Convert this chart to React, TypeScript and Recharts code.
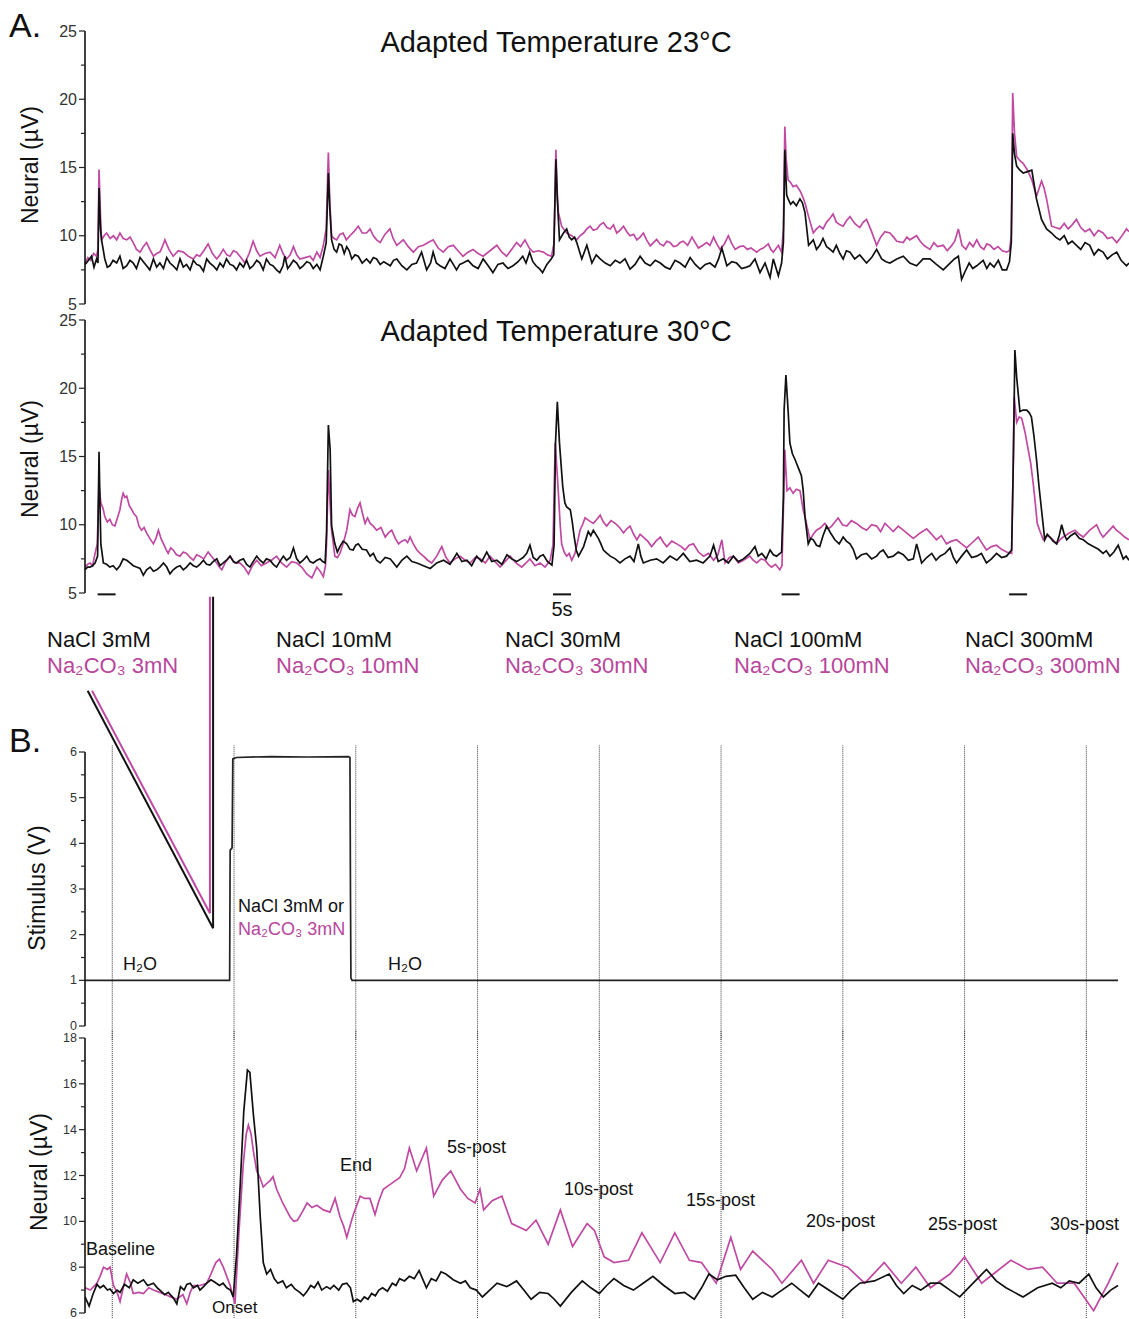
import React from 'react';
import { LineChart, Line, XAxis, YAxis, ReferenceLine } from 'recharts';

const FONT = '"Liberation Sans", Arial, Helvetica, sans-serif';
const BLACK = '#111111';
const MAGENTA = '#c04aa2';
const MAGENTA_TEXT = '#b8469c';

// ---------- Panel A, adapted 23 °C : [time (s), neural (µV)] ----------
const a23NaCl: number[][] = [
  [0,7.9],[0.4,8.0],[1.8,8.5],[2.5,7.7],[3.2,8.3],[3.6,8.0],[3.9,13.5],[4.3,10.5],[4.6,9.7],[5.5,8.3],[6.2,7.7],[6.9,7.8],[7.8,8.2],[8.8,8.0],[9.7,8.5],[10.6,7.6],[11.6,7.8],[12.5,8.2],[13.4,8.0],[14.3,7.6],[15.3,8.4],[16.2,8.1],[17.1,7.8],[18.0,7.5],[19.0,8.3],[19.9,7.7],[20.8,8.0],[21.8,7.6],[22.7,8.4],[23.6,8.0],[24.5,7.8],[25.5,7.5],[26.4,8.3],[27.3,7.7],[28.2,7.9],[29.2,7.5],[30.1,8.2],[31.0,7.9],[31.9,7.8],[32.9,7.4],[33.8,8.3],[34.7,8.0],[35.6,7.8],[36.6,7.5],[37.5,8.0],[38.4,7.7],[39.3,8.3],[40.3,7.9],[41.2,7.8],[42.1,7.5],[43.0,8.0],[44.0,7.7],[44.9,8.2],[45.8,7.6],[46.7,7.8],[47.7,8.2],[48.6,8.0],[49.5,7.5],[50.4,8.3],[51.4,7.9],[52.2,7.8],[53.2,7.5],[54.1,7.3],[55.0,7.8],[55.5,8.5],[56.3,7.6],[56.9,7.8],[57.9,8.2],[58.8,8.0],[59.7,7.6],[60.6,7.8],[61.6,8.1],[62.5,8.0],[63.4,7.6],[64.4,7.9],[65.3,7.5],[66.2,8.5],[67.0,9.5],[67.6,14.6],[68.0,12.0],[68.5,9.7],[69.2,9.0],[69.9,8.8],[70.6,9.4],[71.3,9.3],[72.0,8.7],[72.7,9.2],[73.4,8.9],[74.1,8.3],[75.0,8.6],[75.9,8.5],[77.0,8.0],[78.2,8.3],[79.2,8.0],[80.1,8.4],[81.0,8.3],[82.0,7.9],[83.0,8.1],[84.8,7.8],[85.7,8.2],[86.6,8.3],[88.0,7.8],[89.4,7.5],[90.8,7.9],[92.1,8.0],[93.5,8.8],[94.9,7.5],[96.0,8.0],[96.7,8.8],[97.6,8.0],[98.6,7.8],[100.0,7.6],[101.4,8.3],[102.3,7.9],[103.2,7.5],[104.1,7.9],[105.0,8.0],[106.4,8.2],[107.8,7.8],[109.2,7.6],[110.6,8.3],[112.0,7.8],[113.3,7.3],[114.7,7.9],[116.1,8.0],[117.5,7.6],[118.9,7.8],[120.3,8.1],[121.6,8.5],[122.5,8.0],[123.5,8.8],[124.4,8.1],[125.3,7.8],[126.2,7.6],[127.1,7.3],[128.3,7.9],[129.5,8.3],[130.2,8.6],[130.8,15.6],[131.2,12.7],[131.8,9.7],[132.9,10.2],[133.8,10.5],[134.5,9.9],[135.2,9.7],[136.0,9.9],[136.6,9.5],[138.0,8.3],[139.4,9.3],[140.8,8.0],[142.0,8.6],[143.1,8.3],[144.5,8.0],[145.9,7.8],[147.3,8.2],[148.6,8.0],[150.0,8.3],[151.4,7.55],[152.8,7.9],[154.2,8.5],[155.6,8.0],[157.0,7.8],[158.4,8.2],[159.8,8.0],[161.2,7.7],[162.5,7.55],[163.9,8.2],[165.3,8.0],[166.7,7.7],[168.1,8.4],[169.5,7.9],[170.9,7.55],[172.3,7.9],[173.6,8.0],[175.0,7.7],[176.0,8.3],[176.9,9.1],[178.3,7.8],[179.7,8.1],[181.0,8.0],[182.4,7.6],[183.8,7.7],[184.7,7.8],[186.1,8.3],[187.5,7.3],[188.9,8.0],[190.3,6.95],[191.2,8.3],[192.6,7.07],[193.5,8.0],[194.0,9.5],[194.4,16.3],[194.9,13.0],[195.3,12.7],[196.0,12.3],[196.7,12.5],[197.6,12.2],[198.6,12.7],[199.3,12.4],[200.0,11.7],[201.0,9.3],[202.3,9.7],[203.2,9.0],[204.1,9.3],[205.0,9.8],[206.0,9.2],[207.0,9.0],[207.8,8.8],[208.7,9.3],[209.7,8.7],[210.6,8.3],[211.5,8.9],[212.5,8.8],[213.8,8.3],[215.2,8.6],[217.1,8.0],[218.5,8.4],[219.9,9.0],[221.3,8.3],[222.5,8.1],[223.6,8.0],[225.5,8.3],[227.3,8.5],[229.1,8.0],[231.0,7.8],[232.8,8.3],[234.7,8.3],[236.5,7.9],[238.4,7.5],[240.3,8.0],[241.5,8.3],[242.6,8.5],[243.5,6.8],[244.5,7.4],[245.6,8.0],[246.6,7.6],[247.7,7.8],[249.5,8.2],[250.5,7.6],[251.4,8.0],[252.5,7.7],[253.7,8.2],[254.8,7.5],[256.0,7.5],[256.8,8.1],[257.3,9.5],[257.7,17.5],[258.2,16.0],[258.8,15.1],[259.7,14.8],[260.6,14.6],[261.8,14.7],[263.0,14.8],[264.3,12.7],[265.7,11.2],[267.1,10.5],[268.5,10.2],[269.6,9.9],[270.8,9.7],[272.0,10.0],[273.1,9.4],[274.2,9.6],[275.4,9.3],[276.6,9.0],[277.8,9.5],[279.1,9.3],[280.3,8.6],[281.5,9.0],[282.8,8.8],[284.0,8.3],[285.3,8.6],[286.6,8.8],[287.8,8.2],[289.3,7.8],[290,8.0],
];
const a23Na2CO3: number[][] = [
  [0,8.0],[0.8,8.4],[1.6,8.2],[2.4,8.7],[3.2,8.5],[3.6,9.0],[3.9,14.85],[4.3,11.5],[4.6,9.7],[5.3,10.0],[6.0,10.2],[7.0,9.8],[7.9,10.0],[8.8,9.7],[9.7,10.2],[10.6,9.8],[11.6,9.7],[12.5,9.9],[13.4,9.5],[14.3,9.0],[15.3,8.8],[16.2,9.2],[17.1,9.5],[18.0,9.0],[19.0,8.5],[19.9,8.7],[20.8,8.8],[21.5,9.2],[22.2,9.7],[23.3,9.0],[24.5,8.5],[25.9,8.9],[27.3,8.8],[28.7,8.5],[30.1,8.3],[31.0,8.6],[31.9,8.5],[33.0,8.9],[34.2,9.4],[35.4,8.7],[36.6,8.3],[37.5,8.6],[38.4,9.0],[39.4,8.6],[40.3,8.5],[41.2,8.9],[42.1,8.8],[43.3,8.4],[44.4,8.0],[45.6,8.7],[46.7,9.6],[47.7,8.9],[48.6,8.5],[50.0,8.7],[51.4,8.8],[52.8,8.4],[54.1,9.3],[55.0,8.7],[56.0,8.3],[57.0,8.6],[57.9,9.2],[58.8,8.6],[59.7,8.3],[61.1,8.4],[62.5,8.5],[63.4,8.2],[64.4,8.8],[65.3,8.4],[66.2,9.3],[67.0,10.5],[67.6,16.1],[68.0,12.5],[68.5,10.0],[69.2,9.8],[69.9,9.7],[70.8,10.1],[71.7,10.2],[72.6,9.7],[73.6,10.0],[74.7,10.3],[75.9,10.7],[77.0,10.2],[78.2,10.2],[79.2,10.5],[80.1,10.0],[81.0,9.7],[82.0,9.5],[83.3,10.1],[84.7,10.5],[85.6,9.8],[86.6,9.3],[87.5,9.5],[88.4,9.7],[89.8,9.2],[91.2,8.8],[92.6,9.2],[94.0,9.3],[95.3,9.5],[96.7,9.7],[98.1,9.1],[99.5,8.8],[100.9,9.2],[102.3,9.3],[103.6,8.9],[105.0,8.5],[106.4,8.8],[107.8,9.0],[109.2,8.7],[110.6,8.5],[112.5,8.9],[114.4,9.3],[115.8,8.8],[117.1,8.5],[118.5,9.0],[119.9,9.5],[121.0,9.2],[122.2,9.7],[123.4,9.1],[124.5,8.8],[125.9,8.9],[127.3,8.8],[128.5,8.6],[129.6,8.5],[130.3,9.5],[130.8,16.3],[131.2,13.0],[131.5,11.7],[132.4,10.7],[133.8,10.2],[135.2,10.0],[136.6,9.7],[137.5,10.0],[138.5,10.2],[139.4,10.5],[140.3,10.7],[141.2,10.4],[142.2,10.5],[143.1,10.8],[144.0,10.96],[145.0,10.6],[145.9,10.5],[146.8,10.8],[147.7,10.2],[148.6,10.4],[149.6,10.7],[150.5,10.3],[151.4,10.0],[152.4,10.1],[153.3,9.7],[154.2,9.9],[155.1,10.2],[156.0,9.7],[157.0,9.26],[157.9,9.5],[158.8,9.74],[159.7,9.4],[160.7,9.26],[161.6,9.6],[162.5,9.5],[163.5,9.2],[164.4,9.26],[165.3,9.5],[166.2,9.6],[167.4,9.3],[168.6,9.9],[169.5,9.5],[170.4,9.1],[171.6,9.3],[172.7,9.5],[173.6,9.3],[174.6,9.9],[175.5,9.4],[176.4,9.0],[177.6,9.4],[178.7,10.0],[179.7,9.4],[180.6,9.0],[181.8,9.2],[182.9,9.26],[184.0,9.0],[185.0,9.1],[186.6,8.8],[187.5,9.0],[188.4,9.1],[189.8,9.4],[190.5,9.0],[191.2,8.8],[192.6,9.3],[193.5,8.8],[194.0,10.5],[194.4,18.0],[194.8,15.5],[195.3,14.1],[196.0,13.9],[196.7,13.6],[197.6,13.7],[198.6,13.3],[199.3,12.9],[200.0,12.4],[201.0,11.4],[202.3,10.2],[203.2,10.5],[204.1,10.7],[205.0,10.5],[206.0,11.0],[207.0,11.3],[207.8,11.6],[208.7,11.0],[209.7,10.8],[210.6,10.7],[211.5,11.1],[212.5,11.4],[213.8,10.9],[215.2,10.6],[216.2,11.0],[217.1,11.2],[218.5,10.3],[219.9,9.3],[221.0,9.9],[222.2,10.3],[223.6,10.2],[224.6,9.9],[225.5,9.6],[227.3,9.5],[228.3,9.9],[229.1,9.7],[231.0,10.0],[232.0,9.6],[233.0,9.3],[234.7,9.0],[235.8,9.5],[236.8,9.2],[238.4,9.3],[239.5,8.9],[240.5,9.2],[241.6,9.6],[242.6,10.5],[243.6,9.3],[244.7,9.0],[245.7,9.5],[246.7,9.2],[247.7,9.7],[248.7,9.2],[249.7,9.0],[250.5,9.4],[251.4,9.3],[252.5,9.0],[253.6,9.2],[254.8,8.9],[256.0,8.8],[256.8,8.9],[257.3,10.0],[257.7,20.45],[258.2,17.5],[258.8,15.8],[259.7,15.5],[260.6,15.3],[261.8,14.8],[263.0,14.1],[264.3,12.9],[265.7,14.0],[266.4,13.5],[267.1,12.7],[268.5,10.7],[269.6,10.6],[270.8,10.5],[272.0,10.9],[273.1,10.5],[274.2,10.8],[275.4,11.2],[276.6,10.6],[277.8,10.3],[279.1,10.5],[280.3,10.0],[281.5,10.4],[282.8,10.2],[284.0,9.8],[285.3,9.9],[286.6,9.5],[287.8,9.9],[289.3,10.5],[290,10.3],
];

// ---------- Panel A, adapted 30 °C ----------
const a30NaCl: number[][] = [
  [0,6.7],[0.7,6.9],[1.4,6.9],[2.1,7.0],[2.8,7.2],[3.5,7.7],[3.9,15.35],[4.2,11.0],[4.4,8.6],[5.1,7.2],[6.0,7.1],[6.9,6.9],[7.8,7.0],[8.8,6.7],[9.7,7.0],[10.6,7.5],[11.6,7.4],[12.5,7.2],[13.4,7.0],[14.3,6.9],[15.3,6.8],[16.2,6.3],[17.1,6.7],[18.1,6.9],[19.0,6.6],[19.9,6.7],[20.8,6.9],[21.8,7.2],[22.7,6.9],[23.6,6.4],[24.5,6.7],[25.5,6.9],[26.4,7.0],[27.3,6.7],[28.2,6.9],[29.2,7.2],[30.1,7.0],[31.0,6.9],[31.9,7.1],[32.9,7.4],[33.8,7.1],[34.7,7.05],[35.6,7.3],[36.6,7.5],[37.5,7.0],[38.4,7.2],[39.3,7.4],[40.3,7.7],[41.2,7.3],[42.1,7.2],[43.0,7.4],[44.0,7.5],[44.9,7.1],[45.8,6.9],[46.7,7.3],[47.7,7.7],[48.6,7.4],[49.5,7.2],[50.4,7.5],[51.4,7.4],[52.3,7.1],[53.2,6.9],[54.1,7.3],[55.1,7.7],[56.0,7.4],[57.0,7.6],[57.9,8.3],[58.8,7.5],[59.7,7.2],[60.6,7.4],[61.6,7.7],[62.5,7.3],[63.4,7.2],[64.4,7.4],[65.3,7.5],[66.0,7.3],[66.7,7.2],[67.1,9.5],[67.6,17.3],[68.1,15.5],[68.5,9.9],[69.4,8.6],[70.1,8.0],[70.8,8.4],[71.7,8.8],[72.7,8.6],[73.6,8.2],[74.5,8.15],[75.2,8.5],[75.9,8.6],[77.0,8.2],[78.2,8.15],[79.2,7.7],[80.1,7.9],[81.0,7.4],[82.0,7.2],[83.4,7.6],[84.8,7.5],[85.7,7.2],[86.6,6.9],[88.0,7.4],[89.4,7.7],[90.8,7.3],[92.2,7.2],[94.0,7.0],[95.9,6.8],[97.7,7.2],[99.6,7.4],[101.4,7.1],[103.3,7.9],[104.7,7.3],[106.1,7.4],[107.4,7.0],[108.8,7.7],[110.2,7.3],[111.6,8.0],[113.0,7.3],[114.4,7.4],[115.8,7.1],[117.2,7.8],[118.5,7.5],[119.9,7.3],[121.7,7.6],[122.7,7.9],[123.6,8.5],[124.5,7.6],[125.5,7.4],[126.4,7.7],[127.3,7.8],[128.5,7.3],[129.7,7.05],[130.3,8.5],[130.7,16.0],[131.2,19.0],[131.8,16.0],[132.7,12.8],[133.3,11.6],[133.8,11.3],[134.8,11.1],[135.3,10.3],[135.9,9.1],[136.5,8.1],[137.1,7.7],[138.5,8.4],[139.8,9.5],[140.5,9.2],[141.2,9.6],[142.6,9.0],[143.3,8.6],[144.0,8.15],[145.0,7.9],[145.9,7.7],[147.3,7.5],[148.6,7.2],[150.0,7.5],[151.4,7.7],[152.5,7.3],[153.7,8.6],[154.4,7.7],[155.1,7.2],[157.0,7.4],[158.8,7.5],[160.6,7.2],[162.5,7.7],[164.4,7.4],[166.2,7.9],[168.0,7.3],[169.9,7.4],[171.7,7.2],[173.6,7.7],[174.6,8.5],[175.9,7.3],[177.3,7.5],[178.7,7.2],[180.1,7.7],[181.5,7.3],[182.9,7.5],[184.7,7.9],[186.1,8.4],[187.0,7.7],[188.0,7.9],[189.2,7.5],[190.3,8.15],[191.2,7.8],[192.1,7.7],[193.5,8.0],[194.0,12.0],[194.2,18.4],[194.7,20.96],[195.3,18.4],[195.8,16.0],[196.5,15.2],[197.2,14.8],[198.4,14.0],[199.0,13.6],[199.5,12.5],[200.0,10.6],[200.9,8.6],[201.6,9.0],[202.3,8.9],[203.2,8.5],[204.1,8.4],[205.0,9.2],[206.0,9.9],[207.1,9.4],[208.3,8.9],[209.5,8.6],[210.6,9.1],[211.5,8.8],[212.5,8.6],[213.4,8.2],[214.3,7.5],[215.7,7.8],[217.1,7.9],[218.5,7.5],[219.9,7.7],[220.8,8.0],[221.7,8.15],[223.1,7.6],[224.5,7.7],[225.9,8.0],[227.3,7.8],[228.7,7.4],[230.1,7.5],[231.0,8.6],[232.4,7.2],[233.8,7.6],[235.2,7.9],[236.4,7.4],[237.5,7.7],[238.9,7.9],[240.3,8.3],[241.2,7.6],[242.1,7.2],[243.5,7.7],[244.9,8.15],[246.3,7.6],[247.7,7.7],[249.0,7.9],[250.4,7.2],[251.8,7.5],[253.2,7.9],[254.6,7.6],[256.0,7.7],[257.4,8.15],[257.9,15.0],[258.3,22.8],[258.8,20.8],[259.7,18.3],[260.6,18.4],[261.6,18.4],[262.3,18.2],[262.9,17.9],[263.6,16.5],[264.3,14.8],[265.0,12.8],[265.7,11.1],[266.6,8.9],[267.3,9.3],[268.0,9.1],[268.9,8.8],[269.9,8.6],[270.6,9.2],[271.3,10.0],[272.0,9.3],[272.7,8.9],[273.8,9.2],[275.0,9.4],[276.2,9.0],[277.3,8.9],[278.7,8.6],[280.1,8.4],[281.5,8.2],[282.8,7.9],[283.7,8.1],[284.7,7.7],[285.8,8.0],[287.0,8.5],[288.4,7.5],[289.2,7.7],[290,7.4],
];
const a30Na2CO3: number[][] = [
  [0,6.9],[0.7,7.1],[1.4,7.2],[2.1,7.0],[2.8,7.9],[3.4,8.6],[3.9,12.9],[4.4,11.6],[5.0,11.2],[5.5,10.6],[6.2,10.2],[6.9,10.4],[7.6,10.0],[8.3,9.9],[9.0,10.5],[9.7,11.1],[10.2,11.9],[10.6,12.3],[11.1,12.0],[11.6,12.1],[12.3,11.4],[13.0,11.1],[13.6,10.8],[14.3,10.6],[15.0,9.9],[15.7,9.6],[16.4,9.8],[17.1,9.4],[18.0,9.0],[19.0,8.6],[19.7,9.0],[20.4,9.6],[21.1,9.0],[21.8,8.6],[22.5,8.2],[23.1,7.9],[23.8,8.3],[24.5,8.15],[25.4,7.8],[26.4,7.7],[27.3,8.0],[28.2,7.9],[29.2,7.6],[30.1,7.4],[31.0,7.8],[31.9,7.7],[33.0,7.5],[34.2,8.0],[35.4,7.6],[36.6,7.2],[37.3,6.9],[38.0,6.7],[39.1,7.3],[40.3,7.7],[41.6,7.2],[43.0,7.2],[44.2,6.9],[45.4,6.4],[46.5,7.0],[47.7,7.4],[49.0,7.0],[50.4,7.2],[51.8,7.4],[53.2,7.7],[54.6,7.2],[56.0,6.9],[57.4,7.3],[58.8,7.2],[60.2,6.9],[61.6,6.4],[63.0,6.1],[63.7,6.5],[64.4,6.9],[65.3,6.6],[66.2,6.2],[66.8,7.0],[67.1,8.6],[67.6,14.0],[68.1,11.5],[68.5,9.6],[69.4,7.7],[70.1,7.6],[70.8,7.9],[71.7,8.6],[72.7,9.6],[73.6,11.1],[74.3,10.7],[75.0,10.6],[75.7,11.2],[76.4,11.6],[77.1,10.8],[77.8,10.1],[78.5,10.5],[79.2,10.1],[80.1,9.9],[81.0,9.6],[82.2,9.8],[83.4,9.1],[84.3,9.4],[85.2,9.6],[86.2,9.0],[87.1,8.6],[88.0,8.8],[88.9,8.9],[89.6,8.7],[90.3,9.1],[91.2,8.6],[92.2,8.15],[93.1,7.9],[94.0,7.7],[95.2,7.4],[96.3,7.2],[97.7,7.7],[99.1,8.4],[100.3,7.6],[101.4,7.2],[102.8,7.5],[104.2,7.7],[105.6,7.4],[107.0,7.2],[108.4,7.6],[109.8,7.5],[111.2,7.2],[112.5,7.7],[113.9,7.3],[115.3,6.9],[116.7,7.3],[118.1,7.7],[119.7,7.2],[121.3,6.9],[122.5,7.2],[123.6,7.5],[125.0,7.0],[126.4,7.2],[127.8,6.9],[129.2,7.4],[130.0,8.5],[130.6,16.0],[131.1,14.0],[131.5,12.3],[132.0,10.0],[132.4,8.6],[133.1,8.0],[133.8,7.7],[134.5,7.9],[135.2,7.4],[136.1,7.9],[136.8,8.7],[137.5,9.6],[138.2,10.0],[138.9,10.5],[140.0,10.3],[141.2,10.1],[142.2,10.4],[143.1,10.7],[144.0,10.2],[144.9,9.9],[146.1,10.3],[147.3,10.1],[148.5,9.8],[149.6,9.4],[150.5,9.7],[151.4,9.9],[152.4,9.3],[153.3,8.9],[154.2,9.3],[155.1,9.1],[156.3,8.8],[157.4,8.4],[158.6,8.8],[159.8,9.1],[160.7,8.7],[161.6,8.4],[163.0,8.8],[164.4,8.6],[165.6,8.4],[166.7,8.15],[167.8,8.5],[169.0,8.6],[170.4,8.0],[171.8,7.7],[173.2,7.9],[174.6,7.4],[175.8,7.8],[176.9,8.9],[177.8,7.2],[179.0,7.6],[180.1,7.7],[181.5,7.2],[182.9,7.4],[184.7,7.7],[185.6,7.4],[186.6,7.2],[187.8,7.5],[188.9,7.4],[189.8,7.1],[190.7,6.9],[191.8,7.1],[193.0,6.7],[193.6,7.0],[194.0,11.1],[194.4,15.5],[195.0,12.5],[195.8,12.7],[196.7,12.3],[197.6,12.6],[198.6,12.5],[199.5,11.1],[200.4,10.1],[201.4,8.9],[202.3,9.3],[203.2,9.6],[204.4,9.8],[205.5,10.1],[206.5,9.7],[207.4,9.9],[208.3,10.2],[209.2,10.5],[210.4,10.0],[211.6,9.9],[212.9,10.3],[214.3,10.1],[215.7,9.8],[217.1,9.6],[218.5,10.0],[219.9,9.9],[221.0,9.5],[222.2,10.1],[223.4,9.8],[224.5,9.5],[225.9,9.9],[227.3,9.6],[228.7,9.3],[230.1,9.0],[232.0,9.4],[233.8,9.7],[235.2,9.3],[236.5,8.9],[237.9,9.2],[239.3,8.6],[240.7,8.8],[242.1,8.9],[243.5,8.6],[244.9,8.3],[246.5,8.7],[248.1,9.1],[249.3,8.6],[250.4,8.15],[251.8,8.4],[253.2,8.5],[254.6,8.2],[256.0,8.0],[257.4,7.9],[257.8,14.0],[258.1,19.4],[258.8,17.5],[259.5,17.9],[260.2,17.8],[261.1,16.8],[262.0,15.5],[262.7,14.5],[263.4,13.0],[264.0,11.5],[264.5,10.1],[265.3,9.5],[266.2,8.9],[267.1,9.2],[268.0,9.1],[268.9,8.9],[269.9,8.6],[270.8,8.9],[271.7,9.1],[273.4,9.4],[275.0,9.6],[276.2,9.3],[277.3,9.1],[279.1,9.6],[281.0,10.0],[282.0,9.4],[282.8,9.1],[284.2,9.5],[285.6,9.9],[286.5,9.6],[287.5,9.4],[288.8,9.1],[290,8.9],
];
// stimulus onsets (s) in panel A, each bar 5 s long
const aStimOnsets = [3.5, 66.5, 130, 193.5, 256.7];
const aStimLength = 5;

// ---------- Panel B : stimulus (V) and neural (µV) vs time from onset (s) ----------
const bStimulus: number[][] = [
  [-6.12,1.0],[-0.18,1.0],[-0.16,3.85],[-0.08,3.9],[-0.05,5.85],[0.1,5.88],[1.5,5.9],[3.0,5.89],[4.7,5.9],[4.76,5.88],[4.78,3.08],[4.8,1.05],[4.85,1.0],[36.3,1.0],
];
const bNaCl: number[][] = [
  [-6.12,6.7],[-5.95,6.3],[-5.8,6.8],[-5.63,7.25],[-5.5,7.1],[-5.36,7.2],[-5.2,7.0],[-5.09,7.05],[-4.95,6.85],[-4.8,7.0],[-4.68,6.9],[-4.5,7.25],[-4.3,7.1],[-4.14,7.45],[-3.95,7.3],[-3.72,7.45],[-3.55,7.2],[-3.31,7.3],[-3.15,7.1],[-3.0,6.95],[-2.85,6.8],[-2.7,6.9],[-2.49,6.65],[-2.35,6.4],[-2.2,7.15],[-2.05,7.0],[-1.94,7.25],[-1.8,7.3],[-1.67,7.1],[-1.5,7.2],[-1.4,7.0],[-1.25,7.15],[-1.12,7.3],[-0.95,7.45],[-0.8,7.35],[-0.6,7.2],[-0.45,7.3],[-0.3,7.1],[-0.15,7.0],[-0.03,6.7],[0.1,8.5],[0.25,11.5],[0.4,14.8],[0.55,16.6],[0.65,16.5],[0.8,14.6],[0.93,13.2],[1.07,10.3],[1.2,8.2],[1.34,7.7],[1.5,7.9],[1.65,7.5],[1.8,7.3],[2.0,7.4],[2.15,7.1],[2.35,7.25],[2.5,7.05],[2.7,6.9],[2.85,6.75],[3.0,6.95],[3.15,7.2],[3.3,7.1],[3.45,7.35],[3.6,7.0],[3.8,7.15],[3.95,7.05],[4.1,7.2],[4.3,7.0],[4.45,7.25],[4.63,7.3],[4.78,7.1],[4.9,6.5],[5.05,6.6],[5.2,6.5],[5.35,6.7],[5.5,6.6],[5.65,6.85],[5.8,6.75],[5.95,7.0],[6.1,7.1],[6.3,6.95],[6.5,7.3],[6.65,7.2],[6.8,7.5],[7.0,7.4],[7.2,7.6],[7.4,7.5],[7.6,7.85],[7.9,7.1],[8.1,7.5],[8.3,7.4],[8.5,7.8],[8.7,7.7],[9.0,7.45],[9.3,7.3],[9.5,7.4],[9.7,7.1],[9.95,7.0],[10.2,6.7],[10.5,7.0],[10.8,7.3],[11.2,7.15],[11.6,7.4],[11.9,7.0],[12.2,6.6],[12.55,6.9],[12.9,6.85],[13.15,6.6],[13.4,6.3],[13.85,6.9],[14.3,7.4],[14.65,7.1],[15.0,6.85],[15.3,7.2],[15.6,7.5],[16.0,7.2],[16.4,7.0],[16.8,7.3],[17.2,7.6],[17.65,7.2],[18.1,6.85],[18.5,6.9],[18.9,6.6],[19.2,7.1],[19.5,7.7],[19.85,7.45],[20.2,7.6],[20.6,7.65],[20.95,7.1],[21.3,6.6],[21.7,6.9],[22.1,6.7],[22.5,7.0],[22.9,7.3],[23.25,7.0],[23.6,6.7],[24.0,7.3],[24.5,6.95],[25.0,6.6],[25.35,7.0],[25.7,7.3],[26.3,7.4],[26.9,7.7],[27.2,7.2],[27.5,6.85],[27.85,7.2],[28.2,7.0],[28.6,7.3],[29.0,7.3],[29.4,7.0],[29.8,6.7],[30.35,7.3],[30.9,7.9],[31.3,7.4],[31.7,7.1],[32.05,6.9],[32.4,6.7],[33.0,7.1],[33.6,7.3],[33.95,7.1],[34.3,7.4],[34.7,7.3],[35.1,7.7],[35.4,7.1],[35.7,6.7],[36.0,7.0],[36.3,7.2],
];
const bNa2CO3: number[][] = [
  [-6.12,7.1],[-5.9,7.0],[-5.63,7.3],[-5.5,7.6],[-5.36,8.0],[-5.2,7.9],[-5.09,8.0],[-4.95,7.2],[-4.8,6.9],[-4.68,6.5],[-4.55,7.1],[-4.41,7.7],[-4.25,7.3],[-4.14,6.85],[-3.9,6.9],[-3.72,6.85],[-3.5,7.1],[-3.31,7.0],[-3.05,6.9],[-2.8,6.8],[-2.6,6.7],[-2.35,6.6],[-2.1,6.8],[-1.94,6.4],[-1.8,6.9],[-1.67,7.2],[-1.4,7.2],[-1.12,7.3],[-0.95,7.7],[-0.75,8.2],[-0.6,8.35],[-0.44,8.0],[-0.3,7.6],[-0.16,7.2],[0.04,6.4],[0.2,9.5],[0.38,12.5],[0.5,13.8],[0.59,14.2],[0.7,13.8],[0.79,13.1],[0.93,12.2],[1.07,11.9],[1.2,11.5],[1.34,11.65],[1.5,11.8],[1.6,11.95],[1.75,11.4],[2.0,10.8],[2.15,10.5],[2.3,10.2],[2.45,10.0],[2.6,10.05],[2.8,10.4],[3.0,10.8],[3.2,10.6],[3.4,10.7],[3.67,10.5],[3.94,10.4],[4.15,11.0],[4.35,10.2],[4.5,9.8],[4.63,9.3],[4.76,9.8],[4.9,10.3],[5.04,10.7],[5.18,11.1],[5.35,11.0],[5.58,11.0],[5.79,10.3],[5.95,10.9],[6.13,11.4],[6.4,11.6],[6.8,11.9],[7.0,12.3],[7.2,13.2],[7.5,12.2],[7.9,13.2],[8.2,11.1],[8.55,11.8],[8.9,12.2],[9.3,11.4],[9.6,11.0],[9.9,10.8],[10.1,11.4],[10.25,10.5],[10.6,10.9],[11.0,11.1],[11.4,9.9],[12.0,9.6],[12.4,10.05],[12.9,9.0],[13.4,10.5],[13.9,8.9],[14.5,9.9],[14.8,9.6],[15.2,8.45],[15.6,8.2],[16.2,8.3],[16.75,9.5],[17.5,8.2],[18.1,9.5],[18.7,8.3],[19.2,8.2],[19.8,7.3],[20.4,9.3],[20.8,7.9],[21.3,8.7],[22.1,7.9],[22.5,7.3],[23.3,8.3],[23.8,7.3],[24.4,8.3],[25.2,8.0],[25.9,7.3],[26.7,8.2],[27.4,7.3],[28.0,8.0],[28.6,7.1],[29.4,7.7],[30.0,8.45],[30.7,7.3],[31.3,7.8],[31.9,8.3],[32.6,7.9],[33.2,8.0],[33.8,7.3],[34.5,7.3],[35.3,6.1],[35.9,7.3],[36.3,8.2],
];
// event markers (s from onset)
const bMarkers = [-5, 0, 5, 10, 15, 20, 25, 30, 35];
// leader lines from panel A's first stimulus down to panel B (stimulus-axis units)
const leaderBlack: number[][] = [[-6.01, 7.34], [-0.86, 2.14], [-0.86, 9.4]];
const leaderMagenta: number[][] = [[-5.83, 7.34], [-0.99, 2.47], [-0.99, 9.4]];

const aTicks = [5, 7.5, 10, 12.5, 15, 17.5, 20, 22.5, 25];
const aMajor = [5, 10, 15, 20, 25];
const b1Ticks = [0, 0.5, 1, 1.5, 2, 2.5, 3, 3.5, 4, 4.5, 5, 5.5, 6];
const b1Major = [0, 1, 2, 3, 4, 5, 6];
const b2Ticks = [6, 7, 8, 9, 10, 11, 12, 13, 14, 15, 16, 17, 18];
const b2Major = [6, 8, 10, 12, 14, 16, 18];

const concentrations = ['3', '10', '30', '100', '300'];
const concentrationX = [47, 276, 505, 734, 965];

const pts = (a: number[][]) => a.map(([t, v]) => ({ t, v }));

const makeTick = (major: number[], majorLen: number, minorLen: number, fontSize: number) => (props: any) => {
  const { x, y, payload } = props;
  const isMajor = major.includes(payload.value);
  const len = isMajor ? majorLen : minorLen;
  return (
    <g>
      <line x1={x - len} y1={y} x2={x} y2={y} stroke="#222" strokeWidth={1.2} />
      {isMajor && (
        <text x={x - len - 2} y={y} textAnchor="end" dominantBaseline="central" fontSize={fontSize} fill="#333" fontFamily={FONT}>
          {payload.value}
        </text>
      )}
    </g>
  );
};

const Txt = ({ x, y, size, color = '#111', center = false, rotate = false, children }: any) => (
  <div
    style={{
      position: 'absolute', left: x, top: y, fontSize: size, color, lineHeight: 1, whiteSpace: 'nowrap',
      fontFamily: FONT,
      transform: rotate ? 'translate(-50%,-50%) rotate(-90deg)' : center ? 'translate(-50%,-50%)' : 'translate(0,-50%)',
    }}
  >
    {children}
  </div>
);

const axisLine = { stroke: '#111', strokeWidth: 1.6 };

const PanelA = ({ top, black, magenta, bars }: any) => (
  <div style={{ position: 'absolute', left: 0, top }}>
    <LineChart width={1129} height={320} margin={{ top: 31, right: 0, bottom: 16, left: 0 }}>
      <XAxis type="number" dataKey="t" domain={[0, 290]} hide />
      <YAxis type="number" width={85} domain={[5, 25]} ticks={aTicks} interval={0} tickSize={0} tickMargin={0}
        tickLine={false} axisLine={axisLine} tick={makeTick(aMajor, 6, 4, 16)} />
      <Line data={pts(magenta)} dataKey="v" type="linear" stroke={MAGENTA} strokeWidth={1.7} dot={false} isAnimationActive={false} />
      <Line data={pts(black)} dataKey="v" type="linear" stroke={BLACK} strokeWidth={1.7} dot={false} isAnimationActive={false} />
      {bars && aStimOnsets.map((s) => (
        <ReferenceLine key={s} segment={[{ x: s, y: 4.9 }, { x: s + aStimLength, y: 4.9 }]} stroke="#111" strokeWidth={2} ifOverflow="visible" />
      ))}
    </LineChart>
  </div>
);

export default function App() {
  return (
    <div style={{ position: 'absolute', left: 0, top: 0, width: 1129, height: 1319, background: '#fff', overflow: 'hidden', fontFamily: FONT }}>
      <PanelA top={0} black={a23NaCl} magenta={a23Na2CO3} bars={false} />
      <PanelA top={289} black={a30NaCl} magenta={a30Na2CO3} bars={true} />

      {/* Panel B stimulus */}
      <div style={{ position: 'absolute', left: 0, top: 585 }}>
        <LineChart width={1129} height={461} margin={{ top: 167, right: 11, bottom: 20, left: 0 }}>
          <XAxis type="number" dataKey="t" domain={[-6.12, 36.3]} hide />
          <YAxis type="number" width={85} domain={[0, 6]} ticks={b1Ticks} interval={0} tickSize={0} tickMargin={0}
            tickLine={false} axisLine={axisLine} tick={makeTick(b1Major, 6, 4, 12.5)} />
          {bMarkers.map((m) => (
            <ReferenceLine key={m} segment={[{ x: m, y: -0.3 }, { x: m, y: 6.15 }]} stroke="#3a3a3a" strokeWidth={1} strokeDasharray="1 1" ifOverflow="visible" />
          ))}
          <ReferenceLine segment={[{ x: leaderMagenta[0][0], y: leaderMagenta[0][1] }, { x: leaderMagenta[1][0], y: leaderMagenta[1][1] }]} stroke={MAGENTA} strokeWidth={2} ifOverflow="visible" />
          <ReferenceLine segment={[{ x: leaderMagenta[1][0], y: leaderMagenta[1][1] }, { x: leaderMagenta[2][0], y: leaderMagenta[2][1] }]} stroke={MAGENTA} strokeWidth={2} ifOverflow="visible" />
          <ReferenceLine segment={[{ x: leaderBlack[0][0], y: leaderBlack[0][1] }, { x: leaderBlack[1][0], y: leaderBlack[1][1] }]} stroke={BLACK} strokeWidth={2} ifOverflow="visible" />
          <ReferenceLine segment={[{ x: leaderBlack[1][0], y: leaderBlack[1][1] }, { x: leaderBlack[2][0], y: leaderBlack[2][1] }]} stroke={BLACK} strokeWidth={2} ifOverflow="visible" />
          <Line data={pts(bStimulus)} dataKey="v" type="linear" stroke="#222" strokeWidth={1.7} dot={false} isAnimationActive={false} />
        </LineChart>
      </div>

      {/* Panel B neural */}
      <div style={{ position: 'absolute', left: 0, top: 1030 }}>
        <LineChart width={1129} height={289} margin={{ top: 8, right: 11, bottom: 6, left: 0 }}>
          <XAxis type="number" dataKey="t" domain={[-6.12, 36.3]} hide />
          <YAxis type="number" width={85} domain={[6, 18]} ticks={b2Ticks} interval={0} tickSize={0} tickMargin={0}
            tickLine={false} axisLine={axisLine} tick={makeTick(b2Major, 6, 4, 12.5)} />
          {bMarkers.map((m) => (
            <ReferenceLine key={m} segment={[{ x: m, y: 5.7 }, { x: m, y: 18.4 }]} stroke="#3a3a3a" strokeWidth={1} strokeDasharray="1 1" ifOverflow="visible" />
          ))}
          <Line data={pts(bNa2CO3)} dataKey="v" type="linear" stroke={MAGENTA} strokeWidth={1.7} dot={false} isAnimationActive={false} />
          <Line data={pts(bNaCl)} dataKey="v" type="linear" stroke={BLACK} strokeWidth={1.7} dot={false} isAnimationActive={false} />
        </LineChart>
      </div>

      {/* Panel letters and titles */}
      <Txt x={9} y={25} size={34}>A.</Txt>
      <Txt x={9} y={740} size={34}>B.</Txt>
      <Txt x={556} y={42} size={29} center>Adapted Temperature 23°C</Txt>
      <Txt x={556} y={331} size={29} center>Adapted Temperature 30°C</Txt>

      {/* Axis titles */}
      <Txt x={30} y={165} size={23} rotate>Neural (µV)</Txt>
      <Txt x={30} y={459} size={23} rotate>Neural (µV)</Txt>
      <Txt x={37} y={888} size={23} rotate>Stimulus (V)</Txt>
      <Txt x={39} y={1172} size={23} rotate>Neural (µV)</Txt>

      {/* Scale label */}
      <Txt x={562} y={609} size={20} center>5s</Txt>

      {/* Concentration labels */}
      {concentrations.map((c, i) => (
        <React.Fragment key={c}>
          <Txt x={concentrationX[i]} y={640} size={22}>{`NaCl ${c}mM`}</Txt>
          <Txt x={concentrationX[i]} y={666} size={22} color={MAGENTA_TEXT}>{`Na₂CO₃ ${c}mN`}</Txt>
        </React.Fragment>
      ))}

      {/* Panel B stimulus annotations */}
      <Txt x={123} y={964} size={18}>H₂O</Txt>
      <Txt x={388} y={964} size={18}>H₂O</Txt>
      <Txt x={238} y={906} size={18}>NaCl 3mM or</Txt>
      <Txt x={238} y={929} size={18} color={MAGENTA_TEXT}>Na₂CO₃ 3mN</Txt>

      {/* Panel B event labels */}
      <Txt x={86} y={1249} size={18}>Baseline</Txt>
      <Txt x={212} y={1307} size={17}>Onset</Txt>
      <Txt x={340} y={1165} size={18}>End</Txt>
      <Txt x={447} y={1147} size={18}>5s-post</Txt>
      <Txt x={564} y={1189} size={18}>10s-post</Txt>
      <Txt x={686} y={1200} size={18}>15s-post</Txt>
      <Txt x={806} y={1221} size={18}>20s-post</Txt>
      <Txt x={928} y={1224} size={18}>25s-post</Txt>
      <Txt x={1050} y={1224} size={18}>30s-post</Txt>
    </div>
  );
}
